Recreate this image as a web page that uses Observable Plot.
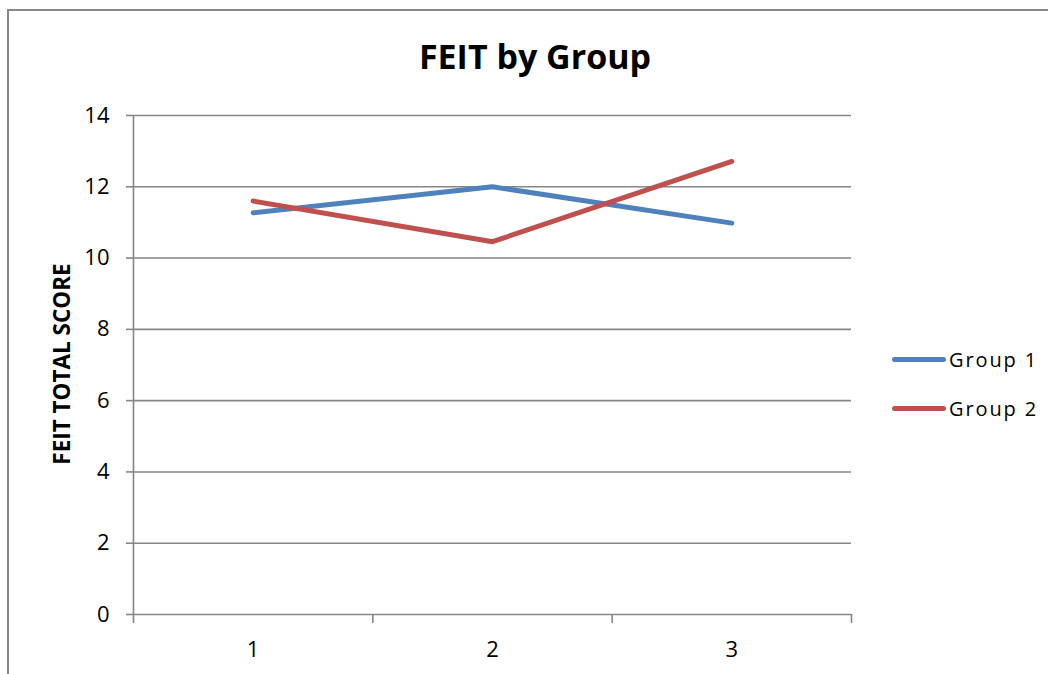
<!DOCTYPE html>
<html>
<head>
<meta charset="utf-8">
<script src="https://cdn.jsdelivr.net/npm/d3@7"></script>
<script src="https://cdn.jsdelivr.net/npm/@observablehq/plot@0.6"></script>
<style>
  html, body { margin: 0; padding: 0; background: #fff; }
  #wrap { position: relative; width: 1048px; height: 674px; overflow: hidden; font-family: "Open Sans", Lato, sans-serif; }
  #frame { position: absolute; left: 7px; top: 9px; width: 1100px; height: 700px; border-left: 2px solid #888; border-top: 2px solid #888; box-sizing: border-box; }
  #chart { position: absolute; left: 0; top: 0; }
  #title { position: absolute; left: 335px; width: 400px; top: 31px; text-align: center; font-weight: bold; font-size: 34px; line-height: 50px; color: #000; }
  #ylabel { position: absolute; left: 61px; top: 364px; transform: translate(-50%, -50%) rotate(-90deg); font-weight: bold; font-size: 22.5px; white-space: nowrap; color: #000; }
  .leg { position: absolute; left: 892px; height: 28px; display: flex; align-items: center; font-size: 20px; letter-spacing: 1.9px; color: #000; }
  .leg .sw { width: 54px; height: 5px; border-radius: 3px; margin-right: 3px; }
</style>
</head>
<body>
<div id="wrap">
  <div id="frame"></div>
  <div id="chart"></div>
  <div id="title"></div>
  <div id="ylabel"></div>
  <div id="legend"></div>
</div>
<script>
const titleText = "FEIT by Group";
const yLabelText = "FEIT TOTAL SCORE";
const xCats = [1, 2, 3];
const seriesNames = ["Group 1", "Group 2"];
const group1 = [11.27, 12.0, 10.98];
const group2 = [11.6, 10.46, 12.71];
const seriesColors = ["#4F81BD", "#C0504D"];
const yTicks = [0, 2, 4, 6, 8, 10, 12, 14];
const xBoundaries = [0.5, 1.5, 2.5, 3.5];

const data = [];
[group1, group2].forEach((vals, si) => {
  xCats.forEach((x, i) => data.push({x, y: vals[i], s: seriesNames[si]}));
});

const chart = Plot.plot({
  width: 1048,
  height: 674,
  marginLeft: 133,
  marginRight: 197,
  marginTop: 115,
  marginBottom: 60,
  x: {type: "linear", domain: [0.5, 3.5]},
  y: {domain: [0, 14]},
  color: {domain: seriesNames, range: seriesColors},
  style: {fontFamily: "'Open Sans', Lato, sans-serif", fontSize: "22px", color: "#000", background: "transparent"},
  marks: [
    Plot.gridY(yTicks, {stroke: "#868686", strokeOpacity: 1, strokeWidth: 1.6}),
    Plot.ruleX([0.5], {stroke: "#868686", strokeWidth: 1.6}),
    Plot.axisY(yTicks, {tickSize: 7, tickPadding: 17, stroke: "#868686", strokeWidth: 1.6, fill: "#000", fontSize: 22, label: null, tickFormat: d => String(d)}),
    Plot.axisX(xBoundaries, {tickSize: 9, tickFormat: () => "", stroke: "#868686", strokeWidth: 1.6, label: null}),
    Plot.axisX(xCats, {tickSize: 0, tickPadding: 27, fill: "#000", fontSize: 22, label: null, tickFormat: d => String(d)}),
    Plot.line(data, {x: "x", y: "y", z: "s", stroke: "s", strokeWidth: 5, strokeLinecap: "round", strokeLinejoin: "round"})
  ]
});
document.getElementById("chart").appendChild(chart);
document.getElementById("title").textContent = titleText;
document.getElementById("ylabel").textContent = yLabelText;

const legend = document.getElementById("legend");
const legendY = [345, 394];
seriesNames.forEach((name, i) => {
  const item = document.createElement("div");
  item.className = "leg";
  item.style.top = legendY[i] + "px";
  const sw = document.createElement("div");
  sw.className = "sw";
  sw.style.background = seriesColors[i];
  const t = document.createElement("span");
  t.textContent = name;
  item.appendChild(sw);
  item.appendChild(t);
  legend.appendChild(item);
});
</script>
</body>
</html>
